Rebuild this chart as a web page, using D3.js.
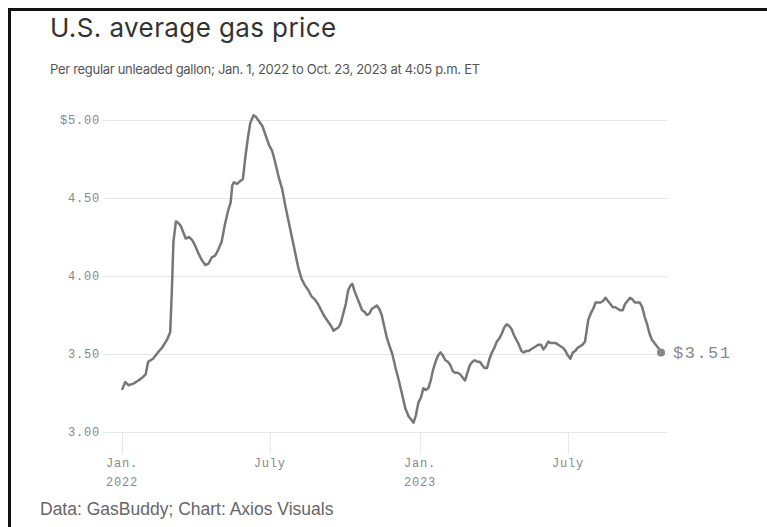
<!DOCTYPE html>
<html>
<head>
<meta charset="utf-8">
<script src="https://cdn.jsdelivr.net/npm/d3@7"></script>
<style>
  body { margin: 0; background: #fff; }
  svg { display: block; }
</style>
</head>
<body>
<svg id="chart" width="767" height="527"></svg>
<script>
// Settings:
var title = 'U.S. average gas price'
var subtitle = 'Per regular unleaded gallon; Jan. 1, 2022 to Oct. 23, 2023 at 4:05 p.m. ET'
var source = 'Data: GasBuddy; Chart: Axios Visuals'

// Data (date, price per gallon)
var dates = [
  '2022-01-01', '2022-01-05', '2022-01-09', '2022-01-15', '2022-01-21', '2022-01-26', '2022-01-30',
  '2022-02-02', '2022-02-08', '2022-02-14', '2022-02-19', '2022-02-25',
  '2022-03-01', '2022-03-03', '2022-03-05', '2022-03-08', '2022-03-11', '2022-03-14', '2022-03-17',
  '2022-03-20', '2022-03-24', '2022-03-28',
  '2022-04-01', '2022-04-05', '2022-04-09', '2022-04-13', '2022-04-17', '2022-04-21', '2022-04-25', '2022-04-29',
  '2022-05-03', '2022-05-07', '2022-05-11', '2022-05-14', '2022-05-16', '2022-05-18', '2022-05-22',
  '2022-05-26', '2022-05-29',
  '2022-06-01', '2022-06-04', '2022-06-07', '2022-06-11', '2022-06-14', '2022-06-18', '2022-06-22',
  '2022-06-26', '2022-06-30',
  '2022-07-04', '2022-07-08', '2022-07-12', '2022-07-16', '2022-07-20', '2022-07-24', '2022-07-28',
  '2022-08-01', '2022-08-05', '2022-08-09', '2022-08-13', '2022-08-17', '2022-08-21', '2022-08-25', '2022-08-29',
  '2022-09-02', '2022-09-06', '2022-09-10', '2022-09-14', '2022-09-17', '2022-09-20', '2022-09-23',
  '2022-09-26', '2022-09-29',
  '2022-10-02', '2022-10-05', '2022-10-08', '2022-10-10', '2022-10-13', '2022-10-16', '2022-10-19',
  '2022-10-22', '2022-10-25', '2022-10-28', '2022-10-31',
  '2022-11-03', '2022-11-06', '2022-11-09', '2022-11-12', '2022-11-15', '2022-11-18', '2022-11-21',
  '2022-11-24', '2022-11-28',
  '2022-12-02', '2022-12-06', '2022-12-10', '2022-12-14', '2022-12-18', '2022-12-21', '2022-12-24',
  '2022-12-27', '2022-12-30',
  '2023-01-02', '2023-01-05', '2023-01-08', '2023-01-11', '2023-01-14', '2023-01-17', '2023-01-20',
  '2023-01-23', '2023-01-26', '2023-01-29',
  '2023-02-01', '2023-02-04', '2023-02-07', '2023-02-10', '2023-02-13', '2023-02-16', '2023-02-19',
  '2023-02-22', '2023-02-25', '2023-02-28',
  '2023-03-03', '2023-03-06', '2023-03-09', '2023-03-12', '2023-03-15', '2023-03-18', '2023-03-21',
  '2023-03-24', '2023-03-27', '2023-03-30',
  '2023-04-02', '2023-04-05', '2023-04-08', '2023-04-11', '2023-04-14', '2023-04-17', '2023-04-20',
  '2023-04-23', '2023-04-26', '2023-04-29',
  '2023-05-02', '2023-05-05', '2023-05-08', '2023-05-11', '2023-05-14', '2023-05-17', '2023-05-20',
  '2023-05-23', '2023-05-26', '2023-05-29',
  '2023-06-01', '2023-06-04', '2023-06-07', '2023-06-10', '2023-06-13', '2023-06-16', '2023-06-19',
  '2023-06-22', '2023-06-25', '2023-06-28',
  '2023-07-01', '2023-07-04', '2023-07-07', '2023-07-10', '2023-07-13', '2023-07-16', '2023-07-19',
  '2023-07-22', '2023-07-24', '2023-07-26', '2023-07-29',
  '2023-08-01', '2023-08-04', '2023-08-07', '2023-08-10', '2023-08-13', '2023-08-16', '2023-08-19',
  '2023-08-22', '2023-08-25', '2023-08-28', '2023-08-31',
  '2023-09-03', '2023-09-06', '2023-09-09', '2023-09-12', '2023-09-15', '2023-09-18', '2023-09-21',
  '2023-09-24', '2023-09-27', '2023-09-30',
  '2023-10-03', '2023-10-06', '2023-10-09', '2023-10-12', '2023-10-15', '2023-10-18', '2023-10-21', '2023-10-23'
]
var prices = [
  3.27, 3.32, 3.30, 3.31, 3.33, 3.35, 3.37,
  3.45, 3.47, 3.51, 3.54, 3.59,
  3.64, 3.90, 4.22, 4.35, 4.34, 4.32, 4.28,
  4.24, 4.25, 4.23,
  4.19, 4.14, 4.10, 4.07, 4.08, 4.12, 4.13, 4.17,
  4.22, 4.33, 4.42, 4.47, 4.58, 4.60, 4.59,
  4.61, 4.62,
  4.76, 4.88, 4.98, 5.03, 5.02, 4.99, 4.96,
  4.90, 4.84,
  4.80, 4.72, 4.63, 4.56, 4.45, 4.35, 4.25,
  4.15, 4.05, 3.98, 3.94, 3.91, 3.87, 3.85, 3.82,
  3.78, 3.74, 3.71, 3.68, 3.65, 3.66, 3.67,
  3.70, 3.76,
  3.82, 3.91, 3.94, 3.95, 3.90, 3.86, 3.82,
  3.78, 3.77, 3.75, 3.76,
  3.79, 3.80, 3.81, 3.79, 3.75, 3.68, 3.61,
  3.56, 3.50,
  3.41, 3.33, 3.24, 3.15, 3.10, 3.08, 3.06,
  3.11, 3.19,
  3.22, 3.28, 3.27, 3.28, 3.33, 3.40, 3.45,
  3.49, 3.51, 3.49,
  3.46, 3.45, 3.43, 3.39, 3.38, 3.38, 3.37,
  3.35, 3.33, 3.38,
  3.43, 3.45, 3.46, 3.45, 3.45, 3.43, 3.41,
  3.41, 3.47, 3.51,
  3.54, 3.58, 3.60, 3.63, 3.67, 3.69, 3.68,
  3.66, 3.62, 3.59,
  3.56, 3.52, 3.51, 3.52, 3.52, 3.53, 3.54,
  3.55, 3.56, 3.56,
  3.53, 3.55, 3.58, 3.57, 3.57, 3.57, 3.56,
  3.55, 3.54, 3.52,
  3.49, 3.47, 3.51, 3.52, 3.54, 3.55, 3.56,
  3.58, 3.65, 3.72, 3.76,
  3.79, 3.83, 3.83, 3.83, 3.84, 3.86, 3.84,
  3.82, 3.80, 3.80, 3.79,
  3.78, 3.78, 3.82, 3.84, 3.86, 3.85, 3.83,
  3.83, 3.83, 3.80,
  3.74, 3.69, 3.63, 3.59, 3.57, 3.55, 3.53, 3.51
]
var yTicks = [3, 3.5, 4, 4.5, 5]
var xTicks = ['2022-01-01', '2022-07-01', '2023-01-01', '2023-07-01']
var xTickLabels = [['Jan.', '2022'], ['July'], ['Jan.', '2023'], ['July']]

var parseDate = d3.timeParse('%Y-%m-%d')
var data = dates.map((d, i) => ({ date: parseDate(d), value: prices[i] }))

var svg = d3.select('#chart')
var mono = "'Liberation Mono', 'DejaVu Sans Mono', monospace"
var sans = "Inter, 'Liberation Sans', sans-serif"

// Scales
var x = d3.scaleTime()
  .domain(d3.extent(data, d => d.date))
  .range([122, 661])
var y = d3.scaleLinear()
  .domain([3, 5])
  .range([432, 120])

// Frame (top + left rule)
svg.append('path')
  .attr('d', 'M9.5,527V9.5H767')
  .attr('fill', 'none')
  .attr('stroke', '#111')
  .attr('stroke-width', 3)

// Titles
svg.append('text')
  .attr('x', 50)
  .attr('y', 37)
  .attr('font-family', sans)
  .attr('font-size', 26)
  .attr('letter-spacing', 0.4)
  .attr('fill', '#333')
  .text(title)

svg.append('text')
  .attr('x', 50)
  .attr('y', 74)
  .attr('font-family', sans)
  .attr('font-size', 13)
  .attr('letter-spacing', -0.3)
  .attr('fill', '#555')
  .text(subtitle)

// Y gridlines + labels
var yAxis = svg.append('g')
  .attr('transform', 'translate(103,0)')
  .call(d3.axisLeft(y)
    .tickValues(yTicks)
    .tickSize(-564)
    .tickPadding(3)
    .tickFormat((d, i) => (d === 5 ? '$' : '') + d3.format('.2f')(d)))
yAxis.select('.domain').remove()
yAxis.selectAll('line').attr('stroke', '#e5e5e5')
yAxis.selectAll('text')
  .attr('font-family', mono)
  .attr('font-size', 12)
  .attr('letter-spacing', 0.8)
  .attr('fill', '#888')

// X ticks + labels
var xAxis = svg.append('g')
  .attr('transform', 'translate(0,432)')
  .call(d3.axisBottom(x)
    .tickValues(xTicks.map(parseDate))
    .tickSize(22)
    .tickFormat(''))
xAxis.select('.domain').remove()
xAxis.selectAll('line').attr('stroke', '#e5e5e5')

var xLabels = svg.append('g')
xTicks.forEach((t, i) => {
  var lab = xLabels.append('text')
    .attr('x', x(parseDate(t)))
    .attr('text-anchor', 'middle')
    .attr('font-family', mono)
    .attr('font-size', 12)
    .attr('letter-spacing', 0.8)
    .attr('fill', '#888')
  xTickLabels[i].forEach((s, j) => {
    lab.append('tspan')
      .attr('x', x(parseDate(t)))
      .attr('y', 467 + j * 19)
      .text(s)
  })
})

// The line
var line = d3.line()
  .x(d => x(d.date))
  .y(d => y(d.value))

svg.append('path')
  .datum(data)
  .attr('d', line)
  .attr('fill', 'none')
  .attr('stroke', '#777')
  .attr('stroke-width', 2.5)
  .attr('stroke-linejoin', 'round')

// End point + label
var last = data[data.length - 1]
svg.append('circle')
  .attr('cx', x(last.date))
  .attr('cy', y(last.value))
  .attr('r', 4)
  .attr('fill', '#888')

svg.append('text')
  .attr('x', x(last.date) + 12)
  .attr('y', y(last.value))
  .attr('dy', '0.35em')
  .attr('font-family', mono)
  .attr('font-size', 17)
  .attr('letter-spacing', 1.5)
  .attr('fill', '#888')
  .text('$' + d3.format('.2f')(last.value))

// Source
svg.append('text')
  .attr('x', 40)
  .attr('y', 515)
  .attr('font-family', "'Liberation Sans', Arial, sans-serif")
  .attr('font-size', 17.5)
  .attr('fill', '#666')
  .text(source)
</script>
</body>
</html>
